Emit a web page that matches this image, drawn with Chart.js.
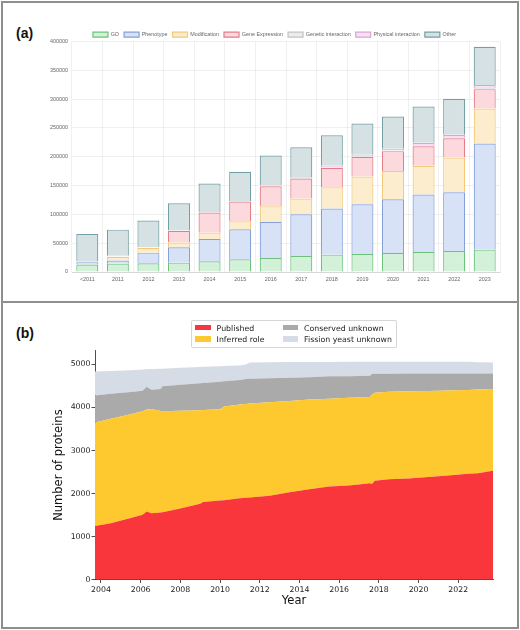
<!DOCTYPE html>
<html>
<head>
<meta charset="utf-8">
<script src="https://cdn.jsdelivr.net/npm/chart.js@4.4.1/dist/chart.umd.min.js"></script>
<style>
  html, body { margin: 0; padding: 0; background: #fff; }
  body { width: 520px; height: 630px; position: relative; overflow: hidden; }
  .frame { position: absolute; left: 1px; top: 1px; width: 514px; height: 624px; border: 2px solid #8e8e8e; }
  .divider { position: absolute; left: 1px; top: 301px; width: 518px; height: 2px; background: #8e8e8e; }
  .tag { position: absolute; font: bold 14px 'Liberation Sans', Arial, sans-serif; color: #111; line-height: 14px; }
  #wrapA { position: absolute; left: 40px; top: 27px; width: 470px; height: 265px; }
  #wrapB { position: absolute; left: 0px; top: 340px; width: 520px; height: 290px; }
  #legendB { position: absolute; left: 191px; top: 320px; width: 204px; height: 26px;
             border: 1px solid rgba(204,204,204,0.8); border-radius: 2px; background: #fff;
             font: 7.8px 'DejaVu Sans', sans-serif; color: #1a1a1a; z-index: 2; }
  #legendB .item { position: absolute; white-space: nowrap; line-height: 8px; }
  #legendB .patch { display: inline-block; width: 15.6px; height: 5.5px; vertical-align: middle; margin-right: 6px; margin-top: -2px; }
</style>
</head>
<body>
<div class="frame"></div>
<div class="divider"></div>
<div class="tag" style="left:16px; top:26px;">(a)</div>
<div class="tag" style="left:16px; top:326px;">(b)</div>
<div id="wrapA"><canvas id="annotChart"></canvas></div>
<div id="wrapB"><canvas id="proteinChart"></canvas></div>
<div id="legendB"></div>
<script>
// (a) annotations per year, stacked by type
const barCategories = ['<2011', '2011', '2012', '2013', '2014', '2015', '2016', '2017', '2018', '2019', '2020', '2021', '2022', '2023'];
const goCounts = [13000, 14500, 15000, 16200, 18500, 22000, 24300, 27800, 30100, 31300, 33000, 34700, 36500, 38800];
const phenotypeCounts = [4000, 5500, 18600, 26600, 38800, 52100, 62600, 72300, 79900, 86200, 93200, 99600, 101900, 184100];
const modificationCounts = [500, 6500, 8100, 8200, 11000, 13900, 27100, 27300, 37000, 48100, 49200, 49800, 60200, 60800];
const geneExpressionCounts = [500, 500, 500, 20200, 34700, 34200, 34800, 34700, 33600, 34100, 34200, 34100, 33500, 33500];
const geneticCounts = [500, 500, 300, 300, 400, 500, 600, 800, 1000, 1000, 1200, 1500, 1500, 1500];
const physicalCounts = [500, 500, 300, 300, 400, 500, 700, 1500, 2500, 2500, 2800, 4300, 4300, 5500];
const otherCounts = [47000, 45500, 46400, 47500, 49600, 50500, 51900, 52100, 53200, 54400, 56200, 63100, 62500, 66600];

// (b) number of proteins by status over time
const snapshotYears = [2003.7, 2004.5, 2005.5, 2006.1, 2006.3, 2006.55, 2007.0, 2007.1, 2008.0, 2009.0, 2009.15, 2010.0, 2010.2, 2011.0, 2011.3, 2011.5, 2012.5, 2013.5, 2014.5, 2015.5, 2016.5, 2017.55, 2017.65, 2017.8, 2018.5, 2019.5, 2020.5, 2021.5, 2022.5, 2023.0, 2023.75];
const published = [1245, 1310, 1430, 1505, 1580, 1540, 1555, 1565, 1650, 1760, 1800, 1835, 1840, 1890, 1900, 1905, 1945, 2030, 2100, 2160, 2185, 2240, 2220, 2295, 2330, 2350, 2385, 2420, 2460, 2470, 2530];
const inferredRole = [2405, 2430, 2410, 2405, 2370, 2425, 2365, 2349, 2272, 2177, 2140, 2125, 2183, 2180, 2180, 2185, 2175, 2120, 2085, 2045, 2040, 2002, 2080, 2050, 2035, 2025, 2000, 1975, 1945, 1945, 1900];
const conservedUnknown = [631, 580, 520, 481, 534, 449, 510, 578, 608, 628, 630, 640, 587, 570, 580, 580, 560, 540, 515, 520, 502, 493, 481, 438, 420, 412, 403, 394, 385, 375, 362];
const fissionUnknown = [555, 530, 508, 492, 407, 479, 470, 410, 395, 377, 375, 360, 355, 335, 340, 377, 372, 365, 357, 335, 335, 328, 282, 281, 280, 278, 277, 276, 273, 262, 255];
const yearTicks = [2004, 2006, 2008, 2010, 2012, 2014, 2016, 2018, 2020, 2022];
const proteinTicks = [0, 1000, 2000, 3000, 4000, 5000];

const barSeries = [
    { label: 'GO', data: goCounts, fill: '#d2f1d8', line: '#6cc27c' },
    { label: 'Phenotype', data: phenotypeCounts, fill: '#d8e2f6', line: '#85a0d8' },
    { label: 'Modification', data: modificationCounts, fill: '#fdedcf', line: '#f4c878' },
    { label: 'Gene Expression', data: geneExpressionCounts, fill: '#fcd9dd', line: '#e57c88' },
    { label: 'Genetic interaction', data: geneticCounts, fill: '#ececec', line: '#c4c4c4' },
    { label: 'Physical interaction', data: physicalCounts, fill: '#f7e0f5', line: '#d8a6d5' },
    { label: 'Other', data: otherCounts, fill: '#d5e1e3', line: '#74a0a5' }
];

const areaSeries = [
    { label: 'Published', data: published, color: '#f9363c' },
    { label: 'Inferred role', data: inferredRole, color: '#fdc92e' },
    { label: 'Conserved unknown', data: conservedUnknown, color: '#aaaaaa' },
    { label: 'Fission yeast unknown', data: fissionUnknown, color: '#d6dce5' }
];

const tinyFont = { family: "'Liberation Sans', Arial, sans-serif", size: 5.4 };

// pull the plot up closer to the legend
const tightLegend = {
    id: 'tightLegend',
    afterInit(chart) {
        const legend = chart.legend;
        if (!legend) return;
        const fit = legend.fit;
        legend.fit = function () { fit.call(this); this.height -= 6; };
    }
};

new Chart(document.getElementById('annotChart'), {
    type: 'bar',
    data: {
        labels: barCategories,
        datasets: barSeries.map(s => ({
            label: s.label,
            data: s.data,
            backgroundColor: s.fill,
            borderColor: s.line,
            borderWidth: 1.2
        }))
    },
    options: {
        responsive: true,
        maintainAspectRatio: false,
        animation: false,
        layout: { padding: { left: 9, right: 10, top: 0, bottom: 8 } },
        plugins: {
            legend: {
                position: 'top',
                labels: { boxWidth: 15, boxHeight: 5, padding: 5, font: tinyFont, color: '#666' }
            },
            tooltip: { enabled: false }
        },
        scales: {
            x: {
                stacked: true,
                grid: { color: 'rgba(0,0,0,0.06)', drawTicks: false },
                border: { color: 'rgba(0,0,0,0.1)' },
                ticks: { font: tinyFont, color: '#666', padding: 4, maxRotation: 0 },
                afterFit: s => { s.height = 12; }
            },
            y: {
                stacked: true,
                min: 0,
                max: 400000,
                grid: { color: 'rgba(0,0,0,0.06)', drawTicks: false },
                border: { display: false },
                ticks: { stepSize: 50000, font: tinyFont, color: '#666', padding: 4, callback: v => String(v) },
                afterFit: s => { s.width = 23; }
            }
        }
    },
    plugins: [tightLegend]
});

// matplotlib-like legend for (b), two columns
const legendB = document.getElementById('legendB');
const legendPos = [[3, 3.5], [3, 15], [90.5, 3.5], [90.5, 15]];
areaSeries.forEach((s, i) => {
    const item = document.createElement('div');
    item.className = 'item';
    item.style.left = legendPos[i][0] + 'px';
    item.style.top = legendPos[i][1] + 'px';
    item.innerHTML = '<span class="patch" style="background:' + s.color + '"></span>' + s.label;
    legendB.appendChild(item);
});

const mplFont = { family: "'DejaVu Sans', sans-serif", size: 7.8 };
const mplTitle = { family: "'DejaVu Sans', sans-serif", size: 11.5 };

new Chart(document.getElementById('proteinChart'), {
    type: 'line',
    data: {
        datasets: areaSeries.map((s, i) => ({
            label: s.label,
            data: snapshotYears.map((yr, k) => ({ x: yr, y: s.data[k] })),
            backgroundColor: s.color,
            borderWidth: 0,
            pointRadius: 0,
            tension: 0,
            fill: i === 0 ? 'origin' : '-1'
        }))
    },
    options: {
        responsive: true,
        maintainAspectRatio: false,
        animation: false,
        layout: { padding: { left: 52, right: 27, top: 10.7, bottom: 22 } },
        plugins: { legend: { display: false }, tooltip: { enabled: false } },
        scales: {
            x: {
                type: 'linear',
                min: 2003.7,
                max: 2023.75,
                afterBuildTicks: s => { s.ticks = yearTicks.map(v => ({ value: v })); },
                grid: { drawOnChartArea: false, drawTicks: true, tickLength: 3.5, color: '#222', lineWidth: 0.8 },
                border: { color: '#222', width: 0.8 },
                ticks: { font: mplFont, color: '#222', padding: 2, maxRotation: 0, callback: v => String(v) },
                title: { display: true, text: 'Year', font: mplTitle, color: '#111', padding: { top: 1, bottom: 0 } },
                afterFit: s => { s.height = 28.5; }
            },
            y: {
                stacked: true,
                min: 0,
                max: 5320,
                afterBuildTicks: s => { s.ticks = proteinTicks.map(v => ({ value: v })); },
                grid: { drawOnChartArea: false, drawTicks: true, tickLength: 3.5, color: '#222', lineWidth: 0.8 },
                border: { color: '#222', width: 0.8 },
                ticks: { font: mplFont, color: '#222', padding: 1, callback: v => String(v) },
                title: { display: true, text: 'Number of proteins', font: mplTitle, color: '#111', padding: { top: 0, bottom: 4 } },
                afterFit: s => { s.width = 43; }
            }
        }
    }
});
</script>
</body>
</html>
